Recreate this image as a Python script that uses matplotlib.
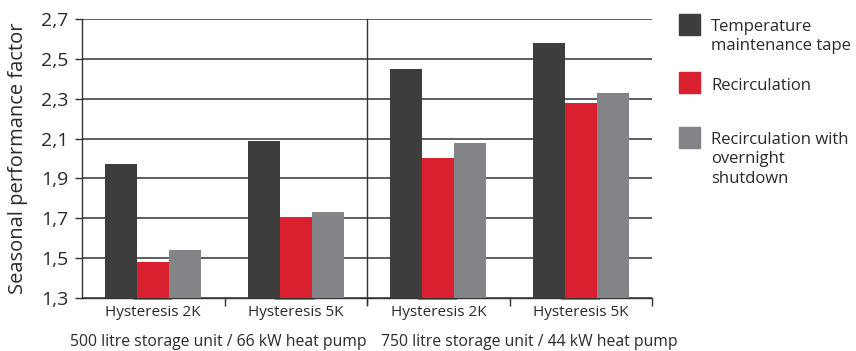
import numpy as np
import matplotlib.pyplot as plt
from matplotlib.patches import Rectangle

plt.rcParams['font.family'] = ['Open Sans', 'DejaVu Sans']

# seasonal performance factor per setup
cases = ['Hysteresis 2K', 'Hysteresis 5K', 'Hysteresis 2K', 'Hysteresis 5K']
groups = ['500 litre storage unit / 66 kW heat pump', '750 litre storage unit / 44 kW heat pump']
series = ['Temperature\nmaintenance tape', 'Recirculation', 'Recirculation with\novernight\nshutdown']
tape = [1.97, 2.09, 2.45, 2.58]
recirc = [1.48, 1.70, 2.00, 2.28]
recirc_night = [1.54, 1.73, 2.08, 2.33]
yticks = [1.3, 1.5, 1.7, 1.9, 2.1, 2.3, 2.5, 2.7]
ytick_labels = ['1,3', '1,5', '1,7', '1,9', '2,1', '2,3', '2,5', '2,7']

colors = ['#3d3d3d', '#d9202f', '#838487']
txt = '#2a2a2a'

fig = plt.figure(figsize=(8.56, 3.51), dpi=100)
ax = fig.add_axes([0.0958, 0.151, 0.666, 0.795])

x = np.arange(len(cases)) + 0.5
w = 0.225
for i, (vals, c) in enumerate(zip([tape, recirc, recirc_night], colors)):
    ax.bar(x + (i - 1) * w, np.array(vals) - 1.3, w, bottom=1.3, color=c, zorder=3)

# faint red underline beneath the recirculation bars
ax.hlines([1.297] * len(x), x - w / 2 - 0.03, x + w / 2 + 0.02, color='#e8707a',
          linewidth=1.5, clip_on=False, zorder=2)

ax.set_xlim(0, 4)
ax.set_ylim(1.3, 2.7)
ax.set_yticks(yticks)
ax.set_yticklabels(ytick_labels, fontsize=14, color=txt)
ax.yaxis.grid(True, color='#333333', linewidth=1.1, zorder=0)
ax.tick_params(axis='y', length=5, width=1, color='#333333', pad=5)

ax.set_xticks([1, 2, 3, 4])
ax.set_xticklabels([])
ax.tick_params(axis='x', length=6, width=1, color='#333333')
ax.set_xticks(x, minor=True)
ax.set_xticklabels(cases, minor=True, fontsize=11, color=txt)
ax.tick_params(axis='x', which='minor', length=0, pad=5)

for s in ['top', 'right']:
    ax.spines[s].set_visible(False)
for s in ['left', 'bottom']:
    ax.spines[s].set_color('#333333')
    ax.spines[s].set_linewidth(1)

# divider between the two storage setups
ax.axvline(2, ymin=-0.02, ymax=1, color='#333333', linewidth=1, clip_on=False, zorder=4)

ax.set_ylabel('Seasonal performance factor', fontsize=14.5, color=txt, labelpad=9)

ax.text(0.954, -0.13, groups[0], transform=ax.get_xaxis_transform(),
        ha='center', va='top', fontsize=11.3, color=txt)
ax.text(3.14, -0.13, groups[1], transform=ax.get_xaxis_transform(),
        ha='center', va='top', fontsize=11.3, color=txt)

# legend drawn by hand
W, H = 856, 351
leg = [(14, 19), (72, 78), (127, 132)]
for (sq_top, txt_top), c, lab in zip(leg, colors, series):
    fig.patches.append(Rectangle((679 / W, 1 - (sq_top + 21) / H), 21 / W, 21 / H,
                                 transform=fig.transFigure, color=c, figure=fig))
    fig.text(711 / W, 1 - txt_top / H, lab, ha='left', va='top', fontsize=12,
             color=txt, linespacing=1.28)

fig.savefig('out.png', dpi=100)
